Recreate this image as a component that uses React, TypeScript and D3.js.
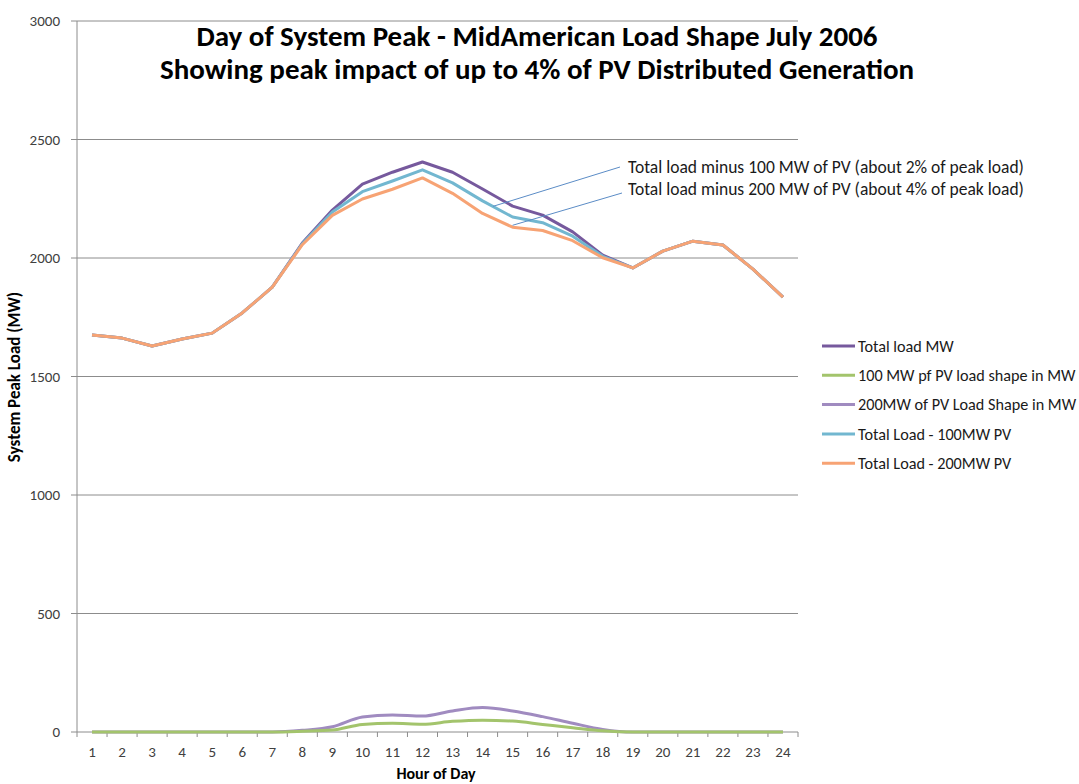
import React from 'react';
import * as d3 from 'd3';

const hours = d3.range(1, 25);
const totalLoad = [1675, 1662, 1629, 1658, 1683, 1768, 1877, 2063, 2202, 2312, 2362, 2405, 2362, 2291, 2219, 2181, 2110, 2012, 1958, 2029, 2071, 2055, 1953, 1835];
const pv100 = [0, 0, 0, 0, 0, 0, 0, 3, 8, 32, 37, 33, 45, 50, 46, 32, 18, 5, 0, 0, 0, 0, 0, 0];
const pv200 = [0, 0, 0, 0, 0, 0, 0, 7, 22, 63, 72, 67, 89, 103, 89, 65, 37, 11, 0, 0, 0, 0, 0, 0];
const load100 = [1675, 1662, 1629, 1658, 1683, 1768, 1877, 2060, 2194, 2280, 2325, 2372, 2317, 2241, 2173, 2149, 2092, 2007, 1958, 2029, 2071, 2055, 1953, 1835];
const load200 = [1675, 1662, 1629, 1658, 1683, 1768, 1877, 2056, 2180, 2249, 2290, 2338, 2273, 2188, 2130, 2116, 2073, 2001, 1958, 2029, 2071, 2055, 1953, 1835];
const yTicks = [0, 500, 1000, 1500, 2000, 2500, 3000];

const titleLines = [
  'Day of System Peak - MidAmerican Load Shape July 2006',
  'Showing peak impact of up to 4% of PV Distributed Generation',
];
const notes = [
  'Total load minus 100 MW of PV (about 2% of peak load)',
  'Total load minus 200 MW of PV (about 4% of peak load)',
];

type Series = { name: string; values: number[]; color: string; smooth: boolean };

const series: Series[] = [
  { name: 'Total load MW', values: totalLoad, color: '#76599d', smooth: false },
  { name: '100 MW pf PV load shape in MW', values: pv100, color: '#a3c46c', smooth: true },
  { name: '200MW of PV Load Shape in MW', values: pv200, color: '#a08bc0', smooth: true },
  { name: 'Total Load - 100MW PV', values: load100, color: '#72b7d0', smooth: false },
  { name: 'Total Load - 200MW PV', values: load200, color: '#f7a374', smooth: false },
];

const W = 1079;
const H = 784;
const m = { left: 77, right: 798, top: 21, bottom: 732 };
const font = "Calibri, Carlito, 'Open Sans', sans-serif";

const App = () => {
  const x = d3.scaleBand<number>().domain(hours).range([m.left, m.right]);
  const cx = (h: number) => (x(h) as number) + x.bandwidth() / 2;
  const y = d3.scaleLinear().domain([0, 3000]).range([m.bottom, m.top]);

  // draw the PV shapes first, load lines on top
  const order = [2, 1, 0, 3, 4];

  const lineFor = (s: Series) => d3.line<number>()
    .x((_, i) => cx(hours[i]))
    .y((d) => y(d))
    .curve(s.smooth ? d3.curveMonotoneX : d3.curveLinear)(s.values) as string;

  // leader lines end on the teal and orange curves
  const bw = x.bandwidth();
  const n1 = { x1: 620, y1: 167, x2: cx(14) + bw * 0.35, y2: y(2218) };
  const n2 = { x1: 622, y1: 193, x2: cx(15), y2: y(2138) };

  return (
    <svg width={W} height={H} style={{ position: 'absolute', left: 0, top: 0, fontFamily: font }}>
      <rect width={W} height={H} fill="#fff" />
      {yTicks.map((t) => (
        <g key={t}>
          {t > 0 && <line x1={m.left} x2={m.right} y1={y(t)} y2={y(t)} stroke="#8c8c8c" strokeWidth={1} />}
          <line x1={m.left - 6} x2={m.left} y1={y(t)} y2={y(t)} stroke="#8c8c8c" />
          <text x={60} y={y(t)} dy="0.35em" textAnchor="end" fontSize={15} fill="#404040">{t}</text>
        </g>
      ))}
      <line x1={m.left} x2={m.left} y1={m.top} y2={m.bottom} stroke="#8c8c8c" />
      <line x1={m.left} x2={m.right} y1={m.bottom} y2={m.bottom} stroke="#8c8c8c" />
      {hours.map((h) => (
        <g key={h}>
          <line x1={(x(h) as number) + bw} x2={(x(h) as number) + bw} y1={m.bottom} y2={m.bottom + 5} stroke="#8c8c8c" />
          <text x={cx(h)} y={757} textAnchor="middle" fontSize={15} fill="#404040">{h}</text>
        </g>
      ))}
      <line x1={m.left} x2={m.left} y1={m.bottom} y2={m.bottom + 5} stroke="#8c8c8c" />

      {order.map((i) => (
        <path key={series[i].name} d={lineFor(series[i])} fill="none" stroke={series[i].color} strokeWidth={3} strokeLinejoin="round" />
      ))}

      {titleLines.map((t, i) => (
        <text key={t} x={537} y={46 + i * 33} textAnchor="middle" fontSize={29} fontWeight="bold" fill="#000">{t}</text>
      ))}

      {[n1, n2].map((n, i) => (
        <g key={i}>
          <line x1={n.x1} y1={n.y1} x2={n.x2} y2={n.y2} stroke="#5b8cc6" strokeWidth={1} />
          <text x={628} y={173 + i * 22} fontSize={17.5} fill="#1a1a1a">{notes[i]}</text>
        </g>
      ))}

      {series.map((s, i) => (
        <g key={s.name} transform={`translate(822, ${346 + i * 29.3})`}>
          <line x1={0} x2={33} y1={0} y2={0} stroke={s.color} strokeWidth={3} />
          <text x={36} y={0} dy="0.35em" fontSize={16.2} fill="#1a1a1a">{s.name}</text>
        </g>
      ))}

      <text x={436} y={779} textAnchor="middle" fontSize={16} fontWeight="bold" fill="#000">Hour of Day</text>
      <text transform="translate(20, 377) rotate(-90)" textAnchor="middle" fontSize={17} fontWeight="bold" fill="#000">System Peak Load (MW)</text>
    </svg>
  );
};

export default App;
